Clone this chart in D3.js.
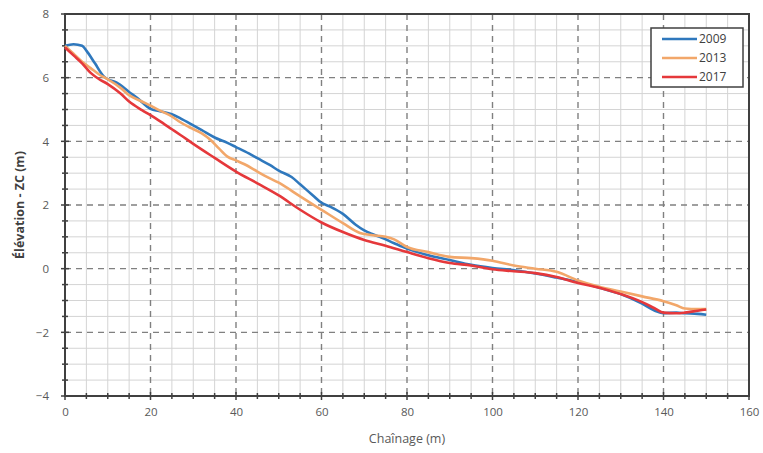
<!DOCTYPE html>
<html><head><meta charset="utf-8">
<script src="https://cdn.jsdelivr.net/npm/d3@7"></script>
<style>
html,body{margin:0;padding:0;background:#fff;}
text{font-family:"Open Sans","Noto Sans",sans-serif;}
</style></head>
<body><svg id="c" width="763" height="453"></svg>
<script>
const xTicks = [0,20,40,60,80,100,120,140,160];
const yTicks = [-4,-2,0,2,4,6,8];
const seriesNames = ["2009","2013","2017"];
const seriesColors = ["#2f78bd","#f2a76a","#e5383b"];

const x2009 = [0,2,4,5,7,9,10,12,15,17,20,22,25,27,30,32,35,38,40,43,45,48,50,53,55,58,60,62,65,68,70,72,74,77,80,85,90,95,100,105,110,115,120,125,130,135,138,140,143,145,148,150];
const y2009 = [7.0,7.05,7.0,6.85,6.45,6.05,5.95,5.85,5.55,5.35,5.02,4.95,4.85,4.72,4.5,4.35,4.12,3.95,3.82,3.62,3.47,3.25,3.08,2.88,2.65,2.3,2.07,1.95,1.72,1.38,1.2,1.08,0.98,0.8,0.63,0.42,0.27,0.12,0.02,-0.05,-0.15,-0.28,-0.42,-0.6,-0.8,-1.1,-1.32,-1.4,-1.38,-1.4,-1.42,-1.45];

const x2013 = [0,2,4,6,8,10,13,15,18,20,22,25,27,29,32,34,36,38,40,42,45,47,50,55,60,65,69,72,75,77,80,85,90,95,100,105,110,115,120,125,130,135,140,143,145,148,150];
const y2013 = [7.0,6.75,6.5,6.3,6.1,5.95,5.68,5.45,5.25,5.12,4.98,4.78,4.6,4.45,4.25,4.05,3.78,3.52,3.4,3.28,3.05,2.9,2.7,2.27,1.85,1.43,1.12,1.05,1.0,0.92,0.68,0.52,0.37,0.33,0.25,0.1,0.0,-0.1,-0.37,-0.57,-0.72,-0.87,-1.02,-1.15,-1.25,-1.27,-1.27];

const x2017 = [0,2,4,6,8,10,13,15,18,20,22,25,27,30,35,40,45,50,55,60,65,70,75,80,85,90,95,100,105,110,115,120,125,130,135,138,140,143,145,148,150];
const y2017 = [6.95,6.7,6.45,6.15,5.95,5.8,5.5,5.25,4.98,4.82,4.65,4.38,4.2,3.92,3.48,3.05,2.68,2.3,1.85,1.45,1.15,0.9,0.72,0.52,0.33,0.18,0.1,-0.02,-0.08,-0.14,-0.26,-0.45,-0.6,-0.8,-1.05,-1.25,-1.38,-1.4,-1.38,-1.32,-1.28];

const series = [
  {name: seriesNames[0], color: seriesColors[0], xs: x2009, ys: y2009},
  {name: seriesNames[1], color: seriesColors[1], xs: x2013, ys: y2013},
  {name: seriesNames[2], color: seriesColors[2], xs: x2017, ys: y2017}
];

const svg = d3.select("#c");
const L = 65, R = 749, T = 14, B = 396;
const x = d3.scaleLinear().domain([0,160]).range([L,R]);
const y = d3.scaleLinear().domain([-4,8]).range([B,T]);

// minor grid
const g = svg.append("g");
const minorX = d3.range(0,160.01,5).filter(v => v % 20 !== 0);
const minorY = d3.range(-4,8.01,0.5).filter(v => Math.abs(v % 2) > 1e-9);
g.selectAll(".mx").data(minorX).enter().append("line")
  .attr("x1", d=>x(d)).attr("x2", d=>x(d)).attr("y1", T).attr("y2", B)
  .attr("stroke", "#d4d4d4").attr("stroke-width", 1);
g.selectAll(".my").data(minorY).enter().append("line")
  .attr("x1", L).attr("x2", R).attr("y1", d=>y(d)).attr("y2", d=>y(d))
  .attr("stroke", "#d4d4d4").attr("stroke-width", 1);
// major grid dashed
g.selectAll(".Mx").data(xTicks.filter(v=>v>0 && v<160)).enter().append("line")
  .attr("x1", d=>x(d)).attr("x2", d=>x(d)).attr("y1", T).attr("y2", B)
  .attr("stroke", "#808080").attr("stroke-width", 1.4).attr("stroke-dasharray", "6,5");
g.selectAll(".My").data(yTicks.filter(v=>v>-4 && v<8)).enter().append("line")
  .attr("x1", L).attr("x2", R).attr("y1", d=>y(d)).attr("y2", d=>y(d))
  .attr("stroke", "#808080").attr("stroke-width", 1.4).attr("stroke-dasharray", "6,5");

// axes
const xAxis = d3.axisBottom(x).tickValues(xTicks).tickSize(0).tickPadding(12).tickFormat(d3.format("d"));
const yAxis = d3.axisLeft(y).tickValues(yTicks).tickSize(0).tickPadding(16).tickFormat(d3.format("d"));
const gx = svg.append("g").attr("transform", `translate(0,${B})`).call(xAxis);
const gy = svg.append("g").attr("transform", `translate(${L},0)`).call(yAxis);
[gx, gy].forEach(a => {
  a.select(".domain").remove();
  a.selectAll("text").attr("fill", "#595959").style("font-size", "11.5px").style("font-family", '"Open Sans",sans-serif');
});

// small ticks along axes
const allXt = d3.range(0,160.01,5);
const allYt = d3.range(-4,8.01,0.5);
svg.append("g").selectAll("line").data(allXt).enter().append("line")
  .attr("x1", d=>x(d)).attr("x2", d=>x(d))
  .attr("y1", d=> B - (d%20===0?4:3)).attr("y2", d=> B + (d%20===0?4:3))
  .attr("stroke", "#404040").attr("stroke-width", 1.5);
svg.append("g").selectAll("line").data(allYt).enter().append("line")
  .attr("y1", d=>y(d)).attr("y2", d=>y(d))
  .attr("x1", d=> L - (Math.abs(d%2)<1e-9?4:3)).attr("x2", d=> L + (Math.abs(d%2)<1e-9?4:3))
  .attr("stroke", "#404040").attr("stroke-width", 1.5);

// plot frame
svg.append("rect").attr("x", L).attr("y", T).attr("width", R-L).attr("height", B-T)
  .attr("fill", "none").attr("stroke", "#404040").attr("stroke-width", 2);

// lines
const line = d3.line().x(d=>x(d[0])).y(d=>y(d[1])).curve(d3.curveMonotoneX);
series.forEach(s => {
  svg.append("path").datum(s.xs.map((v,i)=>[v, s.ys[i]]))
    .attr("d", line).attr("fill", "none").attr("stroke", s.color)
    .attr("stroke-width", 2.6).attr("stroke-linejoin", "round");
});

// legend
const lg = svg.append("g");
lg.append("rect").attr("x", 651).attr("y", 28).attr("width", 92).attr("height", 59)
  .attr("fill", "#fff").attr("stroke", "#404040").attr("stroke-width", 1.5);
series.forEach((s,i) => {
  const yy = 39 + i*19;
  lg.append("line").attr("x1", 662).attr("x2", 697).attr("y1", yy).attr("y2", yy)
    .attr("stroke", s.color).attr("stroke-width", 2.6);
  lg.append("text").attr("x", 699).attr("y", yy+4).text(s.name)
    .attr("fill", "#404040").style("font-size", "12px");
});

// titles
svg.append("text").attr("x", (L+R)/2).attr("y", 443).attr("text-anchor", "middle")
  .attr("fill", "#595959").style("font-size", "12.5px").text("Chaînage (m)");
svg.append("text").attr("transform", `translate(24,${(T+B)/2}) rotate(-90)`).attr("text-anchor", "middle")
  .attr("fill", "#404040").style("font-size", "12.5px").style("font-weight", "bold").text("Élévation - ZC (m)");
</script></body></html>
